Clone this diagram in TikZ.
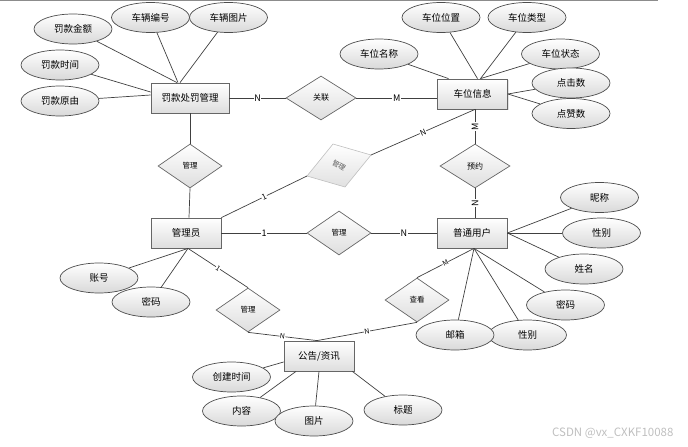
\documentclass[tikz,border=0pt]{standalone}
\usepackage{fontspec}
\setmainfont{Noto Sans CJK SC}
\usetikzlibrary{shapes.geometric,shadows}
\tikzset{
  ent/.style={rectangle, draw=black!60, line width=0.8pt, minimum width=70pt, minimum height=30pt, inner sep=0pt,
    top color=white, bottom color=black!13,
    drop shadow={shadow xshift=1.2pt, shadow yshift=-1.2pt, fill=black!22},
    font=\fontsize{9.5}{10}\selectfont},
  attr/.style={ellipse, draw=black!70, line width=0.7pt, minimum width=78pt, minimum height=30pt, inner sep=0pt,
    top color=white, bottom color=black!15, font=\fontsize{9.5}{10}\selectfont},
  rel/.style={diamond, draw=black!60, line width=0.7pt, minimum width=64pt, minimum height=44pt, inner sep=0pt,
    top color=white, bottom color=black!13, font=\fontsize{7.5}{8}\selectfont},
  conn/.style={draw=black!75, line width=0.7pt},
  card/.style={fill=white, inner sep=0.6pt, font=\fontsize{9}{9}\selectfont},
  smallcard/.style={fill=white, inner sep=0.4pt, font=\fontsize{7}{7}\selectfont},
}
\begin{document}
\begin{tikzpicture}[x=1pt,y=-1pt]
\useasboundingbox (0,0) rectangle (688,447);
\draw[black!45, line width=1.5pt] (0,0.7) -- (658,0.7);

% entities
\node[ent, minimum width=78pt] (fk) at (190,98) {罚款处罚管理};
\node[ent] (cw) at (472.5,94) {车位信息};
\node[ent] (gly) at (186,233) {管理员};
\node[ent] (pt) at (472,233) {普通用户};
\node[ent] (gg) at (319,356) {公告/资讯};

% relations
\node[rel, minimum width=70pt, font=\fontsize{8}{8}\selectfont] (gl) at (321,98) {关联};
\node[rel] (m1) at (190,166) {管理};
\node[rel, minimum width=70pt, font=\fontsize{8}{8}\selectfont] (yy) at (475,166) {预约};
\node[rel] (m2) at (339,233) {管理};
\node[rel] (m3) at (248,310) {管理};
\node[rel] (ck) at (417,300) {查看};

% grey skewed relation
\coordinate (gdT) at (333,144);
\coordinate (gdR) at (371,155);
\coordinate (gdB) at (345,187);
\coordinate (gdL) at (307,176);
\path[draw=black!25, line width=0.6pt, top color=white, bottom color=black!12] (gdT) -- (gdR) -- (gdB) -- (gdL) -- cycle;
\node[rotate=-30, text=black!65, inner sep=0pt, font=\fontsize{7}{7}\selectfont] (gd) at (339,165.5) {管理};

% attributes
\node[attr] (a1) at (73,29) {罚款金额};
\node[attr] (a2) at (150.5,17.5) {车辆编号};
\node[attr] (a3) at (228.5,17.5) {车辆图片};
\node[attr] (a4) at (60,65) {罚款时间};
\node[attr] (a5) at (60,101) {罚款原由};
\node[attr] (b1) at (441,17.5) {车位位置};
\node[attr] (b2) at (527,17.5) {车位类型};
\node[attr] (b3) at (379,54) {车位名称};
\node[attr] (b4) at (560.5,54) {车位状态};
\node[attr] (b5) at (571,83) {点击数};
\node[attr] (b6) at (571,113.5) {点赞数};
\node[attr] (c1) at (99,278) {账号};
\node[attr] (c2) at (151,302) {密码};
\node[attr] (d1) at (231.5,377) {创建时间};
\node[attr] (d2) at (241.5,411) {内容};
\node[attr] (d3) at (314,421) {图片};
\node[attr] (d4) at (403,410) {标题};
\node[attr] (e1) at (599.5,197.5) {昵称};
\node[attr] (e2) at (601.5,233) {性别};
\node[attr] (e3) at (584,269) {姓名};
\node[attr] (e4) at (565.5,305) {密码};
\node[attr] (e6) at (527.5,335) {性别};
\node[attr] (e5) at (455,335) {邮箱};

% attribute connectors
\draw[conn] (a1) -- ([xshift=-13pt]fk.north);
\draw[conn] (a2) -- ([xshift=-12pt]fk.north);
\draw[conn] (a3) -- ([xshift=-10pt]fk.north);
\draw[conn] (a4) -- ([yshift=6pt]fk.west);
\draw[conn] (a5) -- ([yshift=3pt]fk.west);
\draw[conn] (b3) -- ([xshift=-24pt]cw.north);
\draw[conn] (b1) -- ([xshift=5pt]cw.north);
\draw[conn] (b2) -- ([xshift=8pt]cw.north);
\draw[conn] (b4) -- ([xshift=8pt]cw.north);
\draw[conn] (b5) -- (cw.east);
\draw[conn] (b6) -- (cw.east);
\draw[conn] (c1) -- ([xshift=2pt]gly.south);
\draw[conn] (c2) -- ([xshift=2pt]gly.south);
\draw[conn] (d1) -- ([yshift=-6pt]gg.west);
\draw[conn] (d2) -- ([xshift=-23pt]gg.south);
\draw[conn] (d3) -- (gg.south);
\draw[conn] (d4) -- ([xshift=-2pt]gg.south east);
\draw[conn] (e1) -- (pt.east);
\draw[conn] (e2) -- (pt.east);
\draw[conn] (e3) -- (pt.east);
\draw[conn] (e4) -- ([xshift=2pt]pt.south);
\draw[conn] (e5) -- ([xshift=2pt]pt.south);
\draw[conn] (e6) -- ([xshift=2pt]pt.south);

% relation connectors
\draw[conn] (fk.east) -- node[card] {N} (gl.west);
\draw[conn] (gl.east) -- node[card] {M} (gl.east -| cw.west);
\draw[conn] (fk.south) -- (m1.north);
\draw[conn] (m1.south) -- ([xshift=3pt]gly.north);
\draw[conn] (gly.north east) -- node[card, sloped, font=\fontsize{8}{8}\selectfont] {1} (gdL);
\draw[conn] (gdR) -- node[card, sloped, font=\fontsize{8}{8}\selectfont] {N} ([xshift=2.5pt]cw.south);
\draw[conn] ([xshift=2.5pt]cw.south) -- node[card, rotate=90] {M} (yy.north);
\draw[conn] (yy.south) -- node[card, rotate=90] {N} ([xshift=3pt]pt.north);
\draw[conn] (gly.east) -- node[card] {1} (m2.west);
\draw[conn] (m2.east) -- node[card] {N} (pt.west);
\draw[conn] ([xshift=2pt]gly.south) -- node[smallcard, sloped] {1} (m3.north);
\draw[conn] (m3.south) -- node[smallcard, sloped] {N} ([xshift=-2pt]gg.north);
\draw[conn] ([xshift=2pt]pt.south) -- node[smallcard, sloped] {M} (ck.north);
\draw[conn] (ck.south) -- node[smallcard, sloped] {N} ([xshift=-2pt]gg.north);

% watermark
\node[text=black!25, font=\fontsize{11.5}{12}\selectfont, anchor=east] (wm) at (677,433) {CSDN @vx\_CXKF10088};
\end{tikzpicture}
\end{document}
